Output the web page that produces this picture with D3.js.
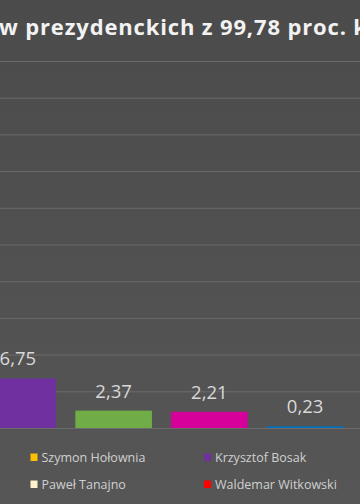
<!DOCTYPE html>
<html>
<head>
<meta charset="utf-8">
<script src="https://cdn.jsdelivr.net/npm/d3@7"></script>
<style>
  html, body { margin: 0; padding: 0; background: #505050; }
  svg { display: block; }
</style>
</head>
<body>
<div id="chart"></div>
<script>
const titleText = "w prezydenckich z 99,78 proc. k";

const candidates = ["Krzysztof Bosak", "Władysław Kosiniak-Kamysz", "Robert Biedroń", "Stanisław Żółtek"];
const results = [6.75, 2.37, 2.21, 0.23];
const barColors = ["#7030a0", "#70ad47", "#d6009a", "#0070c0"];

const legendNames = ["Szymon Hołownia", "Krzysztof Bosak", "Paweł Tanajno", "Waldemar Witkowski"];
const legendColors = ["#ffc000", "#7030a0", "#fff2cc", "#ff0000"];

const yMax = 50;

class VisElectionBars {
  constructor(el) {
    this.el = el;
    this.setup();
    this.scaffold();
    this.render();
  }

  setup() {
    this.width = 360;
    this.height = 504;
    this.data = candidates.map((name, i) => ({
      name,
      value: results[i],
      color: barColors[i],
    }));

    // the picture is a crop of a wider chart, so the band range starts off-screen
    this.x = d3
      .scaleBand()
      .domain(candidates)
      .range([-30, 353])
      .paddingInner(0.2)
      .paddingOuter(0.1);

    this.y = d3.scaleLinear().domain([0, yMax]).range([428, 61]);

    this.format = (v) => d3.format(".2f")(v).replace(".", ",");
  }

  scaffold() {
    this.svg = d3
      .select(this.el)
      .append("svg")
      .attr("width", this.width)
      .attr("height", this.height);

    const grad = this.svg
      .append("defs")
      .append("linearGradient")
      .attr("id", "bg")
      .attr("x1", 0)
      .attr("y1", 0)
      .attr("x2", 0)
      .attr("y2", 1);
    grad.append("stop").attr("offset", 0).attr("stop-color", "#4b4b4b");
    grad.append("stop").attr("offset", 1).attr("stop-color", "#565656");

    this.svg
      .append("rect")
      .attr("width", this.width)
      .attr("height", this.height)
      .attr("fill", "url(#bg)");
  }

  render() {
    this.svg
      .append("text")
      .attr("class", "title")
      .attr("x", -1)
      .attr("y", 35)
      .attr("font-family", "'Open Sans', sans-serif")
      .attr("font-weight", 700)
      .attr("font-size", 22)
      .attr("letter-spacing", 0.85)
      .attr("fill", "#f2f2f2")
      .text(titleText);

    const gridAxis = d3
      .axisLeft(this.y)
      .ticks(10)
      .tickSize(-this.width - 10)
      .tickFormat("");

    this.svg
      .append("g")
      .attr("class", "grid")
      .attr("transform", "translate(-5,0)")
      .call(gridAxis)
      .call((g) => g.select(".domain").remove())
      .call((g) =>
        g.selectAll(".tick line").attr("stroke", "#6b6b6b").attr("stroke-width", 1)
      );

    this.svg
      .append("g")
      .selectAll("rect")
      .data(this.data)
      .join("rect")
      .attr("x", (d) => this.x(d.name))
      .attr("y", (d) => this.y(d.value))
      .attr("width", this.x.bandwidth())
      .attr("height", (d) => this.y(0) - this.y(d.value))
      .attr("fill", (d) => d.color);

    this.svg
      .append("g")
      .selectAll("text")
      .data(this.data)
      .join("text")
      .attr("x", (d) => this.x(d.name) + this.x.bandwidth() / 2)
      .attr("y", (d) => this.y(d.value) - 13)
      .attr("text-anchor", "middle")
      .attr("font-family", "'Open Sans', sans-serif")
      .attr("font-size", 18.5)
      .attr("fill", "#d9d9d9")
      .text((d) => this.format(d.value));

    const legend = this.svg
      .append("g")
      .selectAll("g")
      .data(legendNames)
      .join("g")
      .attr(
        "transform",
        (d, i) => `translate(${i % 2 === 0 ? 30.5 : 204},${i < 2 ? 453.5 : 480.5})`
      );

    legend
      .append("rect")
      .attr("width", 7)
      .attr("height", 7.5)
      .attr("fill", (d, i) => legendColors[i]);

    legend
      .append("text")
      .attr("x", 11)
      .attr("y", 8)
      .attr("font-family", "'Open Sans', sans-serif")
      .attr("font-size", 12.5)
      .attr("fill", "#d0d0d0")
      .text((d) => d);
  }
}

new VisElectionBars(document.getElementById("chart"));
</script>
</body>
</html>
